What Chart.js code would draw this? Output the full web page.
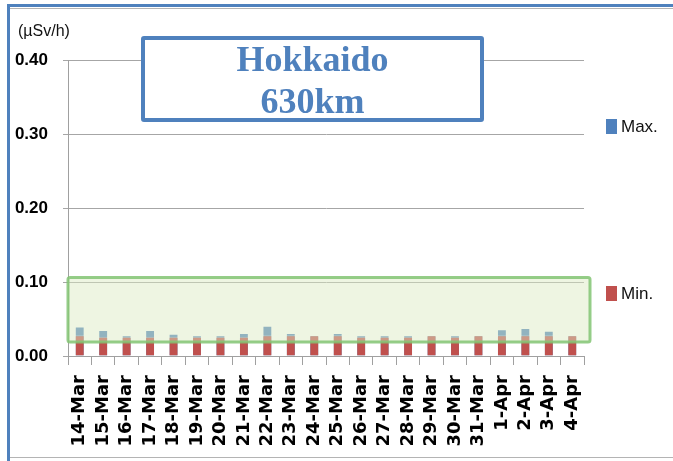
<!DOCTYPE html>
<html>
<head>
<meta charset="utf-8">
<script src="https://cdn.jsdelivr.net/npm/chart.js@4/dist/chart.umd.min.js"></script>
<style>
  html, body { margin: 0; padding: 0; background: #fff; }
  #wrap { position: relative; width: 673px; height: 461px; overflow: hidden; }
  #c { position: absolute; left: 0; top: 0; }
  .frame { position: absolute; left: 7px; top: 4px; width: 700px; height: 500px; box-sizing: border-box;
           border-left: 3px solid #4F81BD; border-top: 3px solid #4F81BD; }
  .gline { position: absolute; left: 10px; width: 663px; height: 0; border-top: 1px solid #b4b4b4; }
  .unit { position: absolute; left: 18px; top: 22px; font: 16px 'Liberation Sans', Arial, sans-serif; color: #111; }
  .title { position: absolute; left: 141px; top: 36px; width: 343px; height: 86px; box-sizing: border-box;
           border: 4px solid #4F81BD; border-radius: 3px; background: #fff;
           font: bold 36px 'Liberation Serif', 'Times New Roman', serif; color: #4F81BD;
           text-align: center; line-height: 42px; }
  .title div { margin-top: -2px; }
  .lg { position: absolute; left: 606px; font: 17px 'Liberation Sans', Arial, sans-serif; color: #111; }
  .lg span.sw { position: absolute; left: 0; width: 11px; height: 15px; }
  .lg span.tx { position: absolute; left: 15px; white-space: nowrap; }
</style>
</head>
<body>
<div id="wrap">
  <div class="frame"></div>
  <div class="gline" style="top:8px"></div>
  <div class="gline" style="top:457px"></div>
  <canvas id="c" width="673" height="461"></canvas>
  <div class="unit">(µSv/h)</div>
  <div class="title"><div>Hokkaido</div><div style="margin-top:0">630km</div></div>
  <div class="lg" style="top:119px"><span class="sw" style="background:#4F81BD"></span><span class="tx" style="top:-2px">Max.</span></div>
  <div class="lg" style="top:286px"><span class="sw" style="background:#C0504D"></span><span class="tx" style="top:-2px">Min.</span></div>
</div>
<script>
const categories = ['14-Mar','15-Mar','16-Mar','17-Mar','18-Mar','19-Mar','20-Mar','21-Mar','22-Mar','23-Mar','24-Mar',
                    '25-Mar','26-Mar','27-Mar','28-Mar','29-Mar','30-Mar','31-Mar','1-Apr','2-Apr','3-Apr','4-Apr'];
const maxValues = [0.040,0.035,0.028,0.035,0.030,0.028,0.028,0.031,0.041,0.031,0.028,
                   0.031,0.028,0.028,0.028,0.028,0.028,0.028,0.036,0.038,0.034,0.028];
const minValues = [0.028,0.026,0.026,0.026,0.026,0.026,0.026,0.026,0.028,0.028,0.028,
                   0.028,0.026,0.026,0.026,0.028,0.026,0.028,0.028,0.028,0.028,0.028];
const yTicks = [0.00, 0.10, 0.20, 0.30, 0.40];
const bandRange = [0.019, 0.106];

const bandPlugin = {
  id: 'band',
  afterDatasetsDraw(chart) {
    const { ctx, chartArea, scales } = chart;
    const y1 = scales.y.getPixelForValue(bandRange[1]);
    const y0 = scales.y.getPixelForValue(bandRange[0]);
    const x0 = chartArea.left;
    const x1 = chartArea.right + 6;
    ctx.save();
    ctx.beginPath();
    if (ctx.roundRect) ctx.roundRect(x0, y1, x1 - x0, y0 - y1, 2); else ctx.rect(x0, y1, x1 - x0, y0 - y1);
    ctx.fillStyle = 'rgba(220,234,195,0.48)';
    ctx.fill();
    ctx.lineWidth = 3;
    ctx.strokeStyle = 'rgba(130,196,115,0.85)';
    ctx.stroke();
    ctx.restore();
  }
};

new Chart(document.getElementById('c'), {
  type: 'bar',
  data: {
    labels: categories,
    datasets: [
      { label: 'Max.', data: maxValues, backgroundColor: '#4F81BD', order: 2,
        borderColor: 'rgba(255,255,255,0.35)', borderWidth: 1 },
      { label: 'Min.', data: minValues, backgroundColor: '#C0504D', order: 1,
        borderColor: 'rgba(255,255,255,0.35)', borderWidth: 1 }
    ]
  },
  options: {
    responsive: false,
    animation: false,
    layout: { padding: { left: 0, right: 89, top: 60, bottom: 0 } },
    datasets: { bar: { grouped: false, categoryPercentage: 1.0, barPercentage: 0.42 } },
    plugins: { legend: { display: false }, tooltip: { enabled: false } },
    scales: {
      x: {
        grid: { offset: true, drawOnChartArea: false, drawTicks: true, tickLength: 9, color: '#a0a0a0' },
        border: { color: '#a0a0a0', width: 1 },
        ticks: { minRotation: 90, maxRotation: 90, autoSkip: false, padding: 10, color: '#000',
                 font: { family: "'DejaVu Sans', Verdana, sans-serif", weight: 'bold', size: 18 } },
        afterFit(scale) { scale.height = 105; }
      },
      y: {
        min: yTicks[0], max: yTicks[yTicks.length - 1],
        afterBuildTicks(scale) { scale.ticks = yTicks.map(v => ({ value: v })); },
        grid: { color: '#a6a6a6', tickLength: 5 },
        border: { color: '#a0a0a0', width: 1 },
        ticks: { padding: 15, color: '#000', callback: v => Number(v).toFixed(2),
                 font: { family: "'Liberation Sans', Arial, sans-serif", weight: 'bold', size: 17 } },
        afterFit(scale) { scale.width = 68; }
      }
    }
  },
  plugins: [bandPlugin]
});
</script>
</body>
</html>
